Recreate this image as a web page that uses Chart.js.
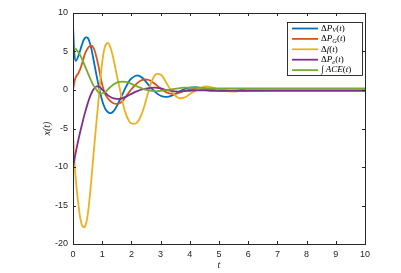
<!DOCTYPE html>
<html>
<head>
<meta charset="utf-8">
<script src="https://cdn.jsdelivr.net/npm/chart.js@4"></script>
<style>
  html, body { margin: 0; padding: 0; background: #fff; }
  #wrap { width: 401px; height: 273px; }
</style>
</head>
<body>
<div id="wrap"><canvas id="myChart" width="401" height="273"></canvas></div>
<script>
// time samples (s)
const tValues = [0, 0.05, 0.1, 0.2, 0.3, 0.4, 0.5, 0.6, 0.7, 0.8, 0.9, 1.0, 1.1, 1.2, 1.3, 1.4, 1.5, 1.6, 1.7, 1.8, 1.9, 2.0,
                 2.2, 2.4, 2.6, 2.8, 3.0, 3.2, 3.4, 3.6, 3.8, 4.0, 4.25, 4.5, 4.75, 5.0, 5.5, 6, 7, 8, 9, 10];

const dPV  = [8.5, 4.6, 3.8, 4.6, 5.8, 6.7, 6.8, 5.8, 4.0, 2.0, 0.2, -1.4, -2.4, -2.9, -3.0, -2.7, -2.1, -1.3, -0.5, 0.3, 1.0, 1.5,
              1.9, 1.5, 0.6, -0.2, -0.75, -0.9, -0.7, -0.3, 0.1, 0.3, 0.35, 0.2, 0.05, -0.05, -0.1, 0.05, 0.02, 0, 0, 0];
const dPG  = [0, 1.1, 1.7, 2.3, 3.3, 4.6, 5.4, 5.75, 5.5, 4.3, 2.6, 0.7, -0.5, -1.1, -1.5, -1.75, -1.8, -1.7, -1.4, -0.9, -0.4, 0.1,
              0.9, 1.35, 1.3, 0.8, 0.2, -0.3, -0.5, -0.4, -0.15, 0.05, 0.15, 0.15, 0.05, -0.05, -0.15, -0.05, 0, 0, 0, 0];
const df   = [-5.5, -9.3, -11.8, -15.3, -17.5, -17.8, -16.3, -12.8, -8.5, -4.3, -0.3, 3.6, 5.7, 6.1, 5.3, 3.8, 1.9, 0.2, -1.6, -3.0, -3.9, -4.35,
              -4.2, -2.6, 0.0, 1.9, 2.0, 0.9, -0.3, -1.0, -1.0, -0.55, 0.05, 0.45, 0.35, 0.05, -0.2, 0.0, 0.02, 0, 0, 0];
const dPe  = [-10, -9.0, -8.0, -6.2, -4.6, -3.1, -1.8, -0.7, 0.05, 0.45, 0.4, 0.05, -0.35, -0.7, -0.95, -1.1, -1.15, -1.15, -1.05, -0.9, -0.7, -0.5,
              -0.15, 0.1, 0.25, 0.3, 0.2, 0.0, -0.15, -0.2, -0.15, -0.1, -0.05, -0.05, -0.1, -0.1, -0.1, -0.1, -0.1, -0.1, -0.1, -0.1];
const iACE = [5.5, 5.4, 5.3, 4.8, 4.1, 3.2, 2.3, 1.4, 0.6, 0.05, -0.4, -0.45, -0.25, 0.1, 0.45, 0.75, 0.95, 1.05, 1.1, 1.05, 0.95, 0.8,
              0.45, 0.15, -0.05, -0.15, -0.12, -0.02, 0.1, 0.22, 0.3, 0.32, 0.3, 0.25, 0.22, 0.2, 0.2, 0.2, 0.2, 0.2, 0.2, 0.2];

const seriesData = [dPV, dPG, df, dPe, iACE];
const seriesColors = ['#0072BD', '#D95319', '#EDB120', '#7E2F8E', '#77AC30'];
// legend labels as pieces: [text, style]  n = normal, i = italic, s = subscript italic
const seriesLabels = [
  [['Δ','n'],['P','i'],['V','s'],['(','n'],['t','i'],[')','n']],
  [['Δ','n'],['P','i'],['G','s'],['(','n'],['t','i'],[')','n']],
  [['Δ','n'],['f','i'],['(','n'],['t','i'],[')','n']],
  [['Δ','n'],['P','i'],['e','s'],['(','n'],['t','i'],[')','n']],
  [['∫ ','n'],['ACE','i'],['(','n'],['t','i'],[')','n']]
];

const xTicks = [0, 1, 2, 3, 4, 5, 6, 7, 8, 9, 10];
const yTicks = [-20, -15, -10, -5, 0, 5, 10];

const axisColor = '#262626';

function drawPieces(c, pieces, x, y, size) {
  pieces.forEach(p => {
    let txt = p[0], st = p[1];
    let fs = st == 's' ? size * 0.72 : size;
    c.font = (st == 'n' ? '' : 'italic ') + fs + 'px "Liberation Serif", serif';
    c.fillText(txt, x, st == 's' ? y + size * 0.25 : y);
    x += c.measureText(txt).width;
  });
}

const boxPlugin = {
  id: 'matlabBox',
  afterDraw(chart) {
    const c = chart.ctx;
    const a = chart.chartArea;
    const xs = chart.scales.x, ys = chart.scales.y;
    c.save();
    c.strokeStyle = axisColor;
    c.lineWidth = 1;
    c.strokeRect(Math.round(a.left) + 0.5, Math.round(a.top) + 0.5, Math.round(a.right - a.left), Math.round(a.bottom - a.top));
    // inward ticks on all four sides
    c.beginPath();
    xTicks.forEach(v => {
      let px = Math.round(xs.getPixelForValue(v)) + 0.5;
      c.moveTo(px, a.bottom); c.lineTo(px, a.bottom - 3);
      c.moveTo(px, a.top); c.lineTo(px, a.top + 3);
    });
    yTicks.forEach(v => {
      let py = Math.round(ys.getPixelForValue(v)) + 0.5;
      c.moveTo(a.left, py); c.lineTo(a.left + 3, py);
      c.moveTo(a.right, py); c.lineTo(a.right - 3, py);
    });
    c.stroke();

    // axis labels
    c.fillStyle = axisColor;
    c.textBaseline = 'middle';
    c.font = 'italic 10px "Liberation Serif", serif';
    c.textAlign = 'center';
    c.fillText('t', (a.left + a.right) / 2, 265);
    c.save();
    c.translate(47, (a.top + a.bottom) / 2);
    c.rotate(-Math.PI / 2);
    c.fillText('x(t)', 0, 0);
    c.restore();

    // legend
    const lx = 287, ly = 22, lw = 75, lh = 53;
    c.fillStyle = '#fff';
    c.fillRect(lx, ly, lw, lh);
    c.strokeStyle = '#000';
    c.lineWidth = 0.8;
    c.strokeRect(lx + 0.5, ly + 0.5, lw, lh);
    c.textAlign = 'left';
    seriesLabels.forEach((lab, i) => {
      let yy = ly + 6.5 + i * 10.4;
      c.strokeStyle = seriesColors[i];
      c.lineWidth = 1.8;
      c.beginPath();
      c.moveTo(292, yy); c.lineTo(318, yy);
      c.stroke();
      c.fillStyle = '#000';
      drawPieces(c, lab, 321, yy, 9);
    });
    c.restore();
  }
};

const ctx = document.getElementById('myChart');
var datasets = seriesData.map((vals, i) => ({
  label: seriesLabels[i].map(p => p[0]).join(''),
  data: vals.map((v, j) => ({x: tValues[j], y: v})),
  borderColor: seriesColors[i],
  borderWidth: 1.8,
  pointRadius: 0,
  tension: 0.4,
  fill: false,
  order: 5 - i
}));

var chart = new Chart(ctx, {
  type: 'line',
  data: { datasets: datasets },
  options: {
    responsive: false,
    animation: false,
    layout: { padding: { top: 13, right: 36, left: 0, bottom: 0 } },
    plugins: { legend: { display: false }, tooltip: { enabled: false } },
    scales: {
      x: {
        type: 'linear', min: 0, max: 10,
        grid: { display: false, drawTicks: false },
        border: { display: false },
        afterBuildTicks: s => { s.ticks = xTicks.map(v => ({value: v})); },
        afterFit: s => { s.height = 29; },
        ticks: { color: axisColor, padding: 5, maxRotation: 0, font: { family: '"Liberation Sans", Arial, sans-serif', size: 9 } }
      },
      y: {
        type: 'linear', min: -20, max: 10,
        grid: { display: false, drawTicks: false },
        border: { display: false },
        afterBuildTicks: s => { s.ticks = yTicks.map(v => ({value: v})); },
        afterFit: s => { s.width = 73; },
        ticks: { color: axisColor, padding: 5, font: { family: '"Liberation Sans", Arial, sans-serif', size: 9 } }
      }
    }
  },
  plugins: [boxPlugin]
});
</script>
</body>
</html>
